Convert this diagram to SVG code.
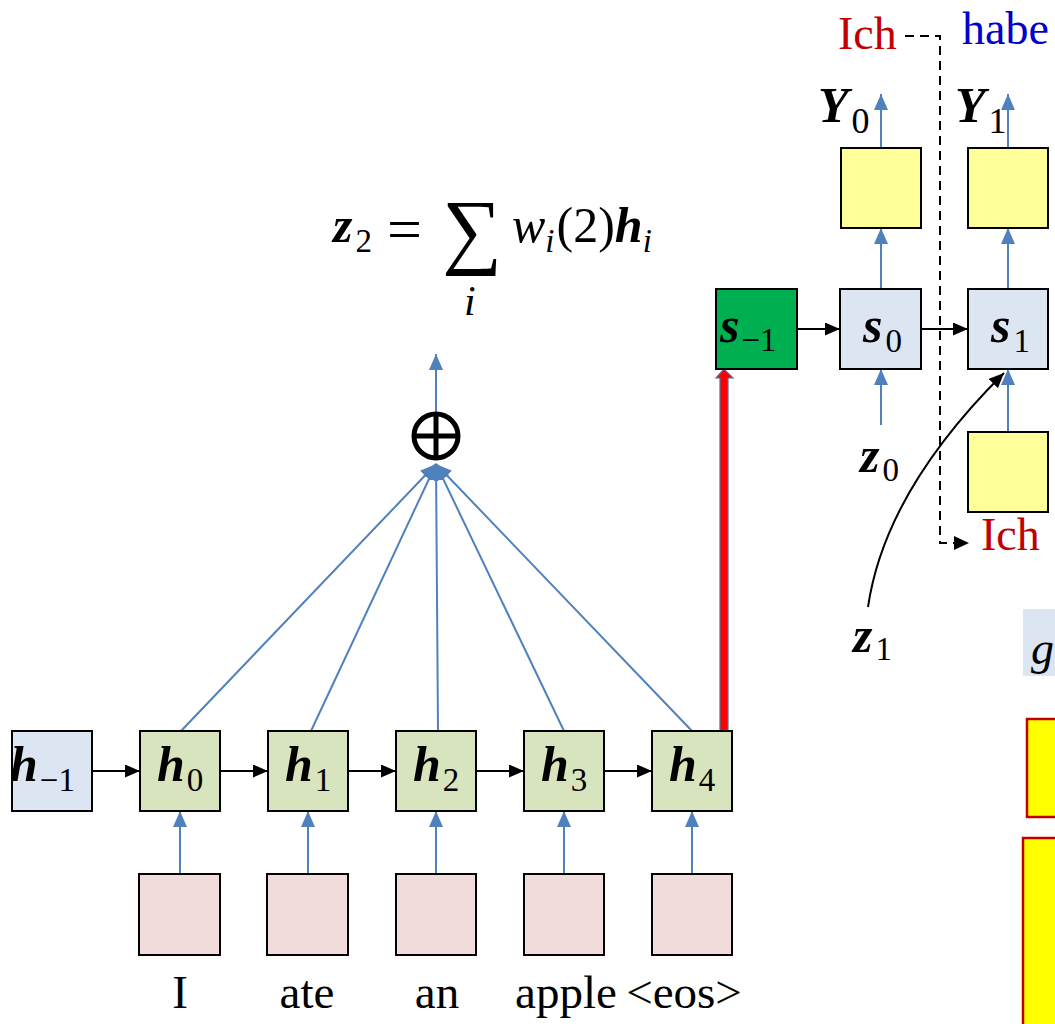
<svg xmlns="http://www.w3.org/2000/svg" width="1055" height="1024" viewBox="0 0 1055 1024">
<style>
.box{stroke:#000;stroke-width:2}
.hg{fill:#D7E4BD}
.lb{fill:#DCE6F2}
.pk{fill:#F2DCDB}
.yl{fill:#FFFF99}
.gr{fill:#00B050}
.bl{stroke:#4F81BD;stroke-width:2;fill:none}
.bk{stroke:#000;stroke-width:2;fill:none}
text{font-family:'Liberation Serif',serif}
.v{font-weight:bold;font-style:italic;font-size:50px;fill:#000}
.sub{font-weight:normal;font-style:normal;font-size:33px}
.w{font-size:47px;fill:#000;text-anchor:middle}
.m{font-size:48px;fill:#000}
</style>
<defs>
<marker id="ab" viewBox="0 0 16 14" refX="16" refY="7" markerWidth="16" markerHeight="14" markerUnits="userSpaceOnUse" orient="auto"><path d="M0,0 L16,7 L0,14 Z" fill="#4F81BD"/></marker>
<marker id="ak" viewBox="0 0 15 13" refX="15" refY="6.5" markerWidth="15" markerHeight="13" markerUnits="userSpaceOnUse" orient="auto"><path d="M0,0 L15,6.5 L0,13 Z" fill="#000"/></marker>
</defs>

<g id="connectors">
<line class="bl" x1="180" y1="874" x2="180" y2="811" marker-end="url(#ab)"/>
<line class="bl" x1="308" y1="874" x2="308" y2="811" marker-end="url(#ab)"/>
<line class="bl" x1="436" y1="874" x2="436" y2="811" marker-end="url(#ab)"/>
<line class="bl" x1="564" y1="874" x2="564" y2="811" marker-end="url(#ab)"/>
<line class="bl" x1="692" y1="874" x2="692" y2="811" marker-end="url(#ab)"/>
<line class="bk" x1="92" y1="771" x2="140" y2="771" marker-end="url(#ak)"/>
<line class="bk" x1="220" y1="771" x2="268" y2="771" marker-end="url(#ak)"/>
<line class="bk" x1="348" y1="771" x2="396" y2="771" marker-end="url(#ak)"/>
<line class="bk" x1="476" y1="771" x2="524" y2="771" marker-end="url(#ak)"/>
<line class="bk" x1="604" y1="771" x2="652" y2="771" marker-end="url(#ak)"/>
<line class="bl" stroke-width="1.5" x1="181" y1="731" x2="436" y2="464" marker-end="url(#ab)"/>
<line class="bl" stroke-width="1.5" x1="311" y1="731" x2="436" y2="464" marker-end="url(#ab)"/>
<line class="bl" stroke-width="1.5" x1="438" y1="731" x2="436" y2="464" marker-end="url(#ab)"/>
<line class="bl" stroke-width="1.5" x1="564" y1="731" x2="436" y2="464" marker-end="url(#ab)"/>
<line class="bl" stroke-width="1.5" x1="692" y1="731" x2="436" y2="464" marker-end="url(#ab)"/>
<line class="bl" x1="436" y1="412" x2="436" y2="354" marker-end="url(#ab)"/>
<path d="M720,731 V378 H716 L724,369 L733,378 H728 V731 Z" fill="#FF0000" stroke="#4F6FA0" stroke-width="1.2"/>
<line class="bk" x1="797" y1="329" x2="840" y2="329" marker-end="url(#ak)"/>
<line class="bk" x1="921" y1="329" x2="968" y2="329" marker-end="url(#ak)"/>
<line class="bl" x1="881" y1="148" x2="881" y2="94" marker-end="url(#ab)"/>
<line class="bl" x1="881" y1="289" x2="881" y2="228" marker-end="url(#ab)"/>
<line class="bl" x1="881" y1="425" x2="881" y2="369" marker-end="url(#ab)"/>
<line class="bl" x1="1008" y1="148" x2="1008" y2="94" marker-end="url(#ab)"/>
<line class="bl" x1="1008" y1="289" x2="1008" y2="228" marker-end="url(#ab)"/>
<line class="bl" x1="1008" y1="432" x2="1008" y2="369" marker-end="url(#ab)"/>
<path class="bk" stroke-dasharray="9,6" d="M905,36 H940 V543 H955"/>
<path d="M954,536 L969,543 L954,550 Z" fill="#000"/>
<path class="bk" stroke-width="2.5" d="M868,607 Q885,491 1004,373" marker-end="url(#ak)"/>
</g>

<g id="h-1"><rect class="box lb" x="12" y="731" width="80" height="80"/><text class="v" x="10" y="781">h<tspan class="sub" dx="2" dy="10">−1</tspan></text></g>
<g id="h0"><rect class="box hg" x="140" y="731" width="80" height="80"/><text class="v" x="157" y="781">h<tspan class="sub" dx="2" dy="10">0</tspan></text></g>
<g id="h1"><rect class="box hg" x="268" y="731" width="80" height="80"/><text class="v" x="285" y="781">h<tspan class="sub" dx="2" dy="10">1</tspan></text></g>
<g id="h2"><rect class="box hg" x="396" y="731" width="80" height="80"/><text class="v" x="413" y="781">h<tspan class="sub" dx="2" dy="10">2</tspan></text></g>
<g id="h3"><rect class="box hg" x="524" y="731" width="80" height="80"/><text class="v" x="541" y="781">h<tspan class="sub" dx="2" dy="10">3</tspan></text></g>
<g id="h4"><rect class="box hg" x="652" y="731" width="80" height="80"/><text class="v" x="669" y="781">h<tspan class="sub" dx="2" dy="10">4</tspan></text></g>

<g id="x0"><rect class="box pk" x="139" y="874" width="81" height="81"/><text class="w" x="180" y="1008">I</text></g>
<g id="x1"><rect class="box pk" x="267" y="874" width="81" height="81"/><text class="w" x="307" y="1008">ate</text></g>
<g id="x2"><rect class="box pk" x="396" y="874" width="80" height="81"/><text class="w" x="437" y="1008">an</text></g>
<g id="x3"><rect class="box pk" x="524" y="874" width="80" height="81"/><text class="w" x="566" y="1008">apple</text></g>
<g id="x4"><rect class="box pk" x="652" y="874" width="80" height="81"/><text class="w" x="684" y="1008">&lt;eos&gt;</text></g>

<g id="sum">
<circle cx="436" cy="436" r="22" fill="#fff" stroke="#000" stroke-width="5"/>
<line x1="414" y1="436" x2="458" y2="436" stroke="#000" stroke-width="5"/>
<line x1="436" y1="414" x2="436" y2="458" stroke="#000" stroke-width="5"/>
</g>

<g id="formula">
<text class="v" x="333" y="242">z<tspan class="sub" dx="3" dy="10">2</tspan></text>
<text class="m" x="387" y="250" style="font-size:62px">=</text>
<text class="m" x="442" y="258" style="font-size:84px">∑</text>
<text class="m" x="464" y="315" style="font-style:italic;font-size:42px">i</text>
<text class="m" x="512" y="242" style="font-style:italic;font-size:50px">w<tspan class="sub" dy="10" style="font-style:italic">i</tspan><tspan dx="2" dy="-10" style="font-style:normal">(2)</tspan><tspan style="font-weight:bold">h</tspan><tspan class="sub" dy="10" style="font-style:italic">i</tspan></text>
</g>

<g id="s-1"><rect class="box gr" x="716" y="289" width="81" height="80"/><text class="v" x="720" y="342">s<tspan class="sub" dx="2" dy="9">−1</tspan></text></g>
<g id="s0"><rect class="box lb" x="840" y="289" width="81" height="80"/><text class="v" x="863" y="342">s<tspan class="sub" dx="3" dy="10">0</tspan></text></g>
<g id="s1"><rect class="box lb" x="968" y="289" width="80" height="80"/><text class="v" x="991" y="342">s<tspan class="sub" dx="3" dy="10">1</tspan></text></g>
<g id="y0"><rect class="box yl" x="841" y="148" width="80" height="80"/><text class="v" x="818" y="122">Y<tspan class="sub" dx="3" dy="11" style="font-size:36px">0</tspan></text></g>
<g id="y1"><rect class="box yl" x="968" y="148" width="80" height="80"/><text class="v" x="955" y="122">Y<tspan class="sub" dx="3" dy="11" style="font-size:36px">1</tspan></text></g>
<g id="e1"><rect class="box yl" x="968" y="432" width="80" height="80"/></g>
<g id="z0"><text class="v" x="860" y="472">z<tspan class="sub" dx="3" dy="9">0</tspan></text></g>
<g id="z1"><text class="v" x="853" y="652">z<tspan class="sub" dx="3" dy="8">1</tspan></text></g>
<g id="ich-top"><text x="838" y="49" style="font-size:46px;fill:#C00000">Ich</text></g>
<g id="habe"><text x="962" y="44" style="font-size:46px;fill:#0000CC">habe</text></g>
<g id="ich-bot"><text x="981" y="550" style="font-size:46px;fill:#C00000">Ich</text></g>
<g id="g"><rect x="1023" y="609" width="40" height="67" fill="#DCE6F2"/><text x="1031" y="664" style="font-style:italic;font-size:46px;fill:#000">g</text></g>
<g id="r1"><rect x="1027" y="719" width="40" height="98" fill="#FFFF00" stroke="#C00000" stroke-width="2.5"/></g>
<g id="r2"><rect x="1023" y="838" width="44" height="200" fill="#FFFF00" stroke="#C00000" stroke-width="2.5"/></g>
</svg>
